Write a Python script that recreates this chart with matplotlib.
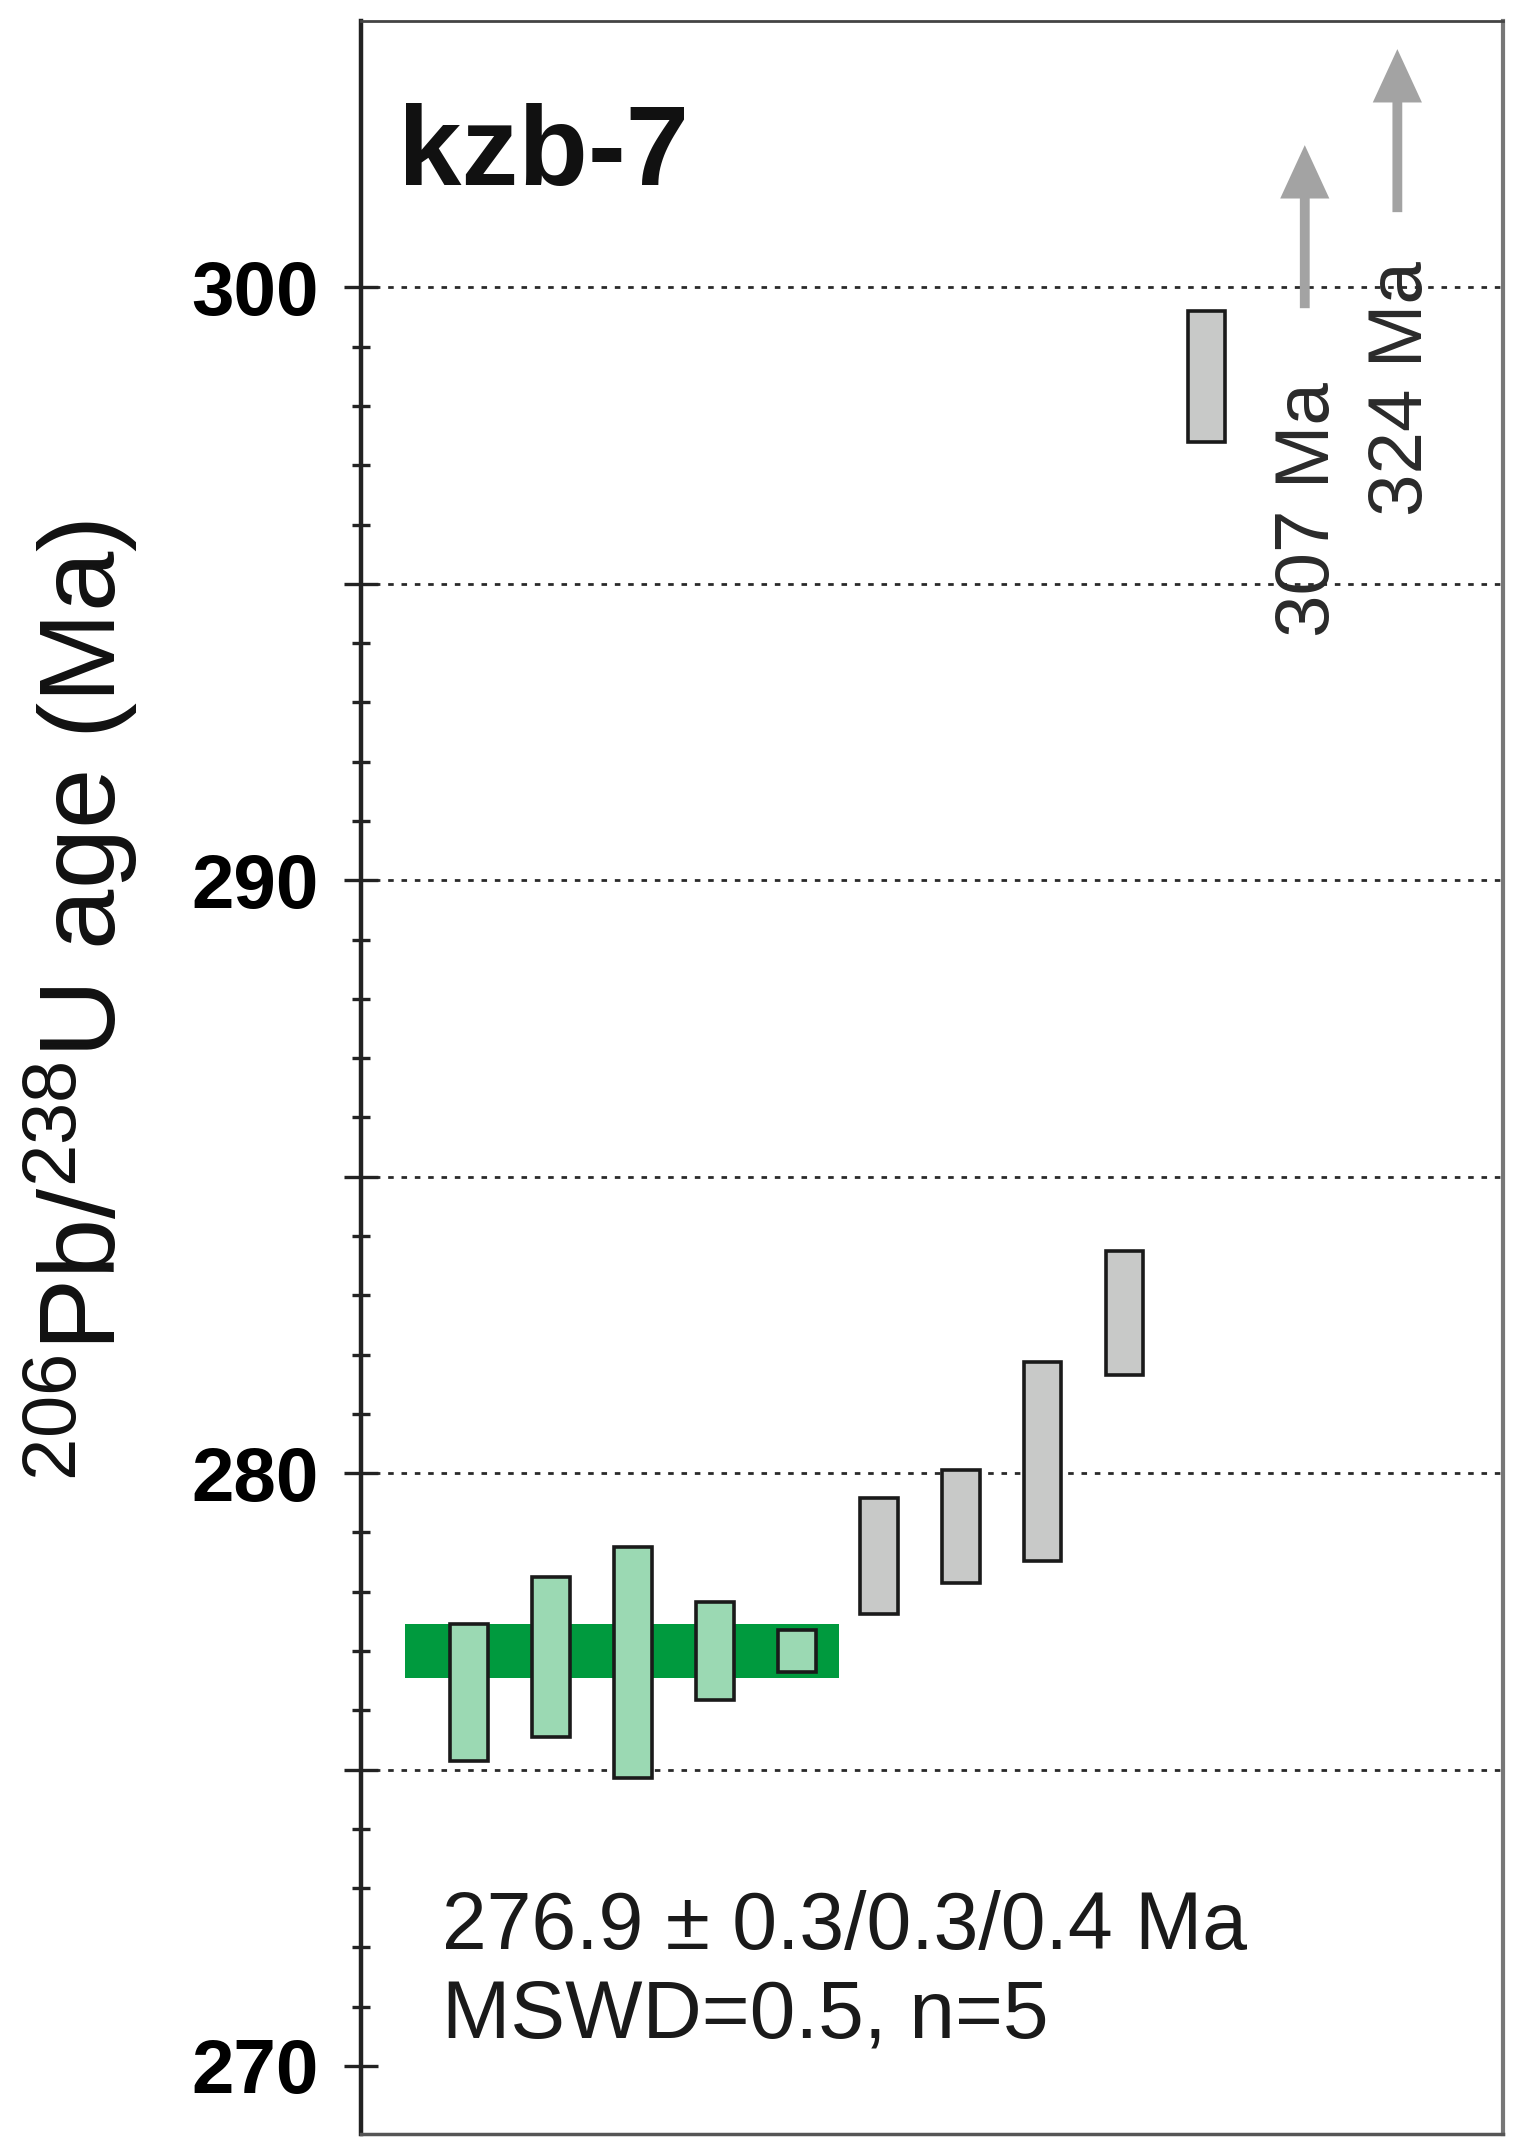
import numpy as np
import matplotlib
matplotlib.use('Agg')
import matplotlib.pyplot as plt
from matplotlib.patches import FancyArrow
from matplotlib.ticker import FixedLocator, FixedFormatter

# ---------------- data ----------------
sample_name = 'kzb-7'
ages = [276.3, 276.9, 276.8, 277.0, 277.0, 278.6, 279.1, 280.2, 282.7, 298.5]
errors = [1.15, 1.35, 1.95, 0.82, 0.35, 0.98, 0.95, 1.68, 1.05, 1.10]
used = [True, True, True, True, True, False, False, False, False, False]
mean_age = 277.0
mean_err = 0.45
offscale_labels = ['307 Ma', '324 Ma']
ytick_values = [270, 280, 290, 300]
ytick_labels = ['270', '280', '290', '300']
grid_values = [275, 280, 285, 290, 295, 300]
result_lines = ['276.9 \u00b1 0.3/0.3/0.4 Ma', 'MSWD=0.5, n=5']
ylabel = r'$^{206}$Pb/$^{238}$U age (Ma)'

# ---------------- style ----------------
plt.rcParams['font.family'] = ['Liberation Sans', 'DejaVu Sans']
plt.rcParams['mathtext.fontset'] = 'custom'
plt.rcParams['mathtext.rm'] = 'Liberation Sans'
plt.rcParams['mathtext.it'] = 'Liberation Sans:italic'
plt.rcParams['mathtext.bf'] = 'Liberation Sans:bold'

fig = plt.figure(figsize=(15.25, 21.52), dpi=100)
ax = fig.add_axes([0.2367, 0.0083, 0.7489, 0.9821])
ax.set_xlim(-0.32, 13.62)
ax.set_ylim(268.85, 304.5)

# gridlines
for g in grid_values:
    ax.axhline(g, color='#2a2a2a', lw=2.0, linestyle=(0, (2, 2.8)), zorder=1)

# weighted mean band
n_used = sum(used)
ax.fill_between([1 - 0.78, n_used + 0.52], mean_age - mean_err, mean_age + mean_err,
                color='#009a3e', lw=0, zorder=2)

# bars
x = np.arange(1, len(ages) + 1)
ages_a = np.array(ages)
err_a = np.array(errors)
colors = ['#9bd9b3' if u else '#c8c9c8' for u in used]
ax.bar(x, 2 * err_a, bottom=ages_a - err_a, width=0.46, color=colors,
       edgecolor='#1a1a1a', linewidth=2.6, zorder=3)

# off-scale arrows
n = len(ages)
arrow_x = [n + 1 + 0.2, n + 2 + 0.33]
arrow_base = [299.65, 301.27]
label_top = [298.4, 300.45]
for ax_x, base, ltop, lab in zip(arrow_x, arrow_base, label_top, offscale_labels):
    ax.add_patch(FancyArrow(ax_x, base, 0, 2.75, width=0.12, head_width=0.6,
                            head_length=0.9, length_includes_head=True,
                            color='#a3a3a3', lw=0, zorder=3))
    ax.text(ax_x + 0.06, ltop, lab, rotation=90, ha='center', va='top',
            fontsize=55, color='#2a2a2a', zorder=4)

# texts
ax.text(0.0324, 0.9222, sample_name, transform=ax.transAxes, fontsize=82,
        fontweight='bold', va='baseline', ha='left', color='#111111')
ax.text(0.0709, 0.0875, result_lines[0], transform=ax.transAxes, fontsize=58,
        va='baseline', ha='left', color='#1a1a1a')
ax.text(0.0709, 0.0459, result_lines[1], transform=ax.transAxes, fontsize=59,
        va='baseline', ha='left', color='#1a1a1a')
fig.text(0.053, 0.535, ylabel, rotation=90, ha='center', va='center',
         fontsize=78, color='#111111')

# ticks
major = list(range(270, 301, 5))
minor = [v for v in range(270, 301) if v % 5 != 0]
lab_map = dict(zip(ytick_values, ytick_labels))
ax.yaxis.set_major_locator(FixedLocator(major))
ax.yaxis.set_major_formatter(FixedFormatter([lab_map.get(m, '') for m in major]))
ax.yaxis.set_minor_locator(FixedLocator(minor))
ax.tick_params(axis='y', which='major', direction='inout', length=25, width=2.4,
               pad=18, labelsize=55, color='#222222')
ax.tick_params(axis='y', which='minor', direction='inout', length=13, width=2.4,
               color='#222222')
for lbl in ax.get_yticklabels():
    lbl.set_fontweight('bold')
ax.set_xticks([])

ax.spines['left'].set_color('#222222')
ax.spines['left'].set_linewidth(3.2)
ax.spines['top'].set_color('#444444')
ax.spines['top'].set_linewidth(2)
ax.spines['right'].set_color('#777777')
ax.spines['right'].set_linewidth(3)
ax.spines['bottom'].set_color('#555555')
ax.spines['bottom'].set_linewidth(2.5)

fig.savefig('out.png', dpi=100)
